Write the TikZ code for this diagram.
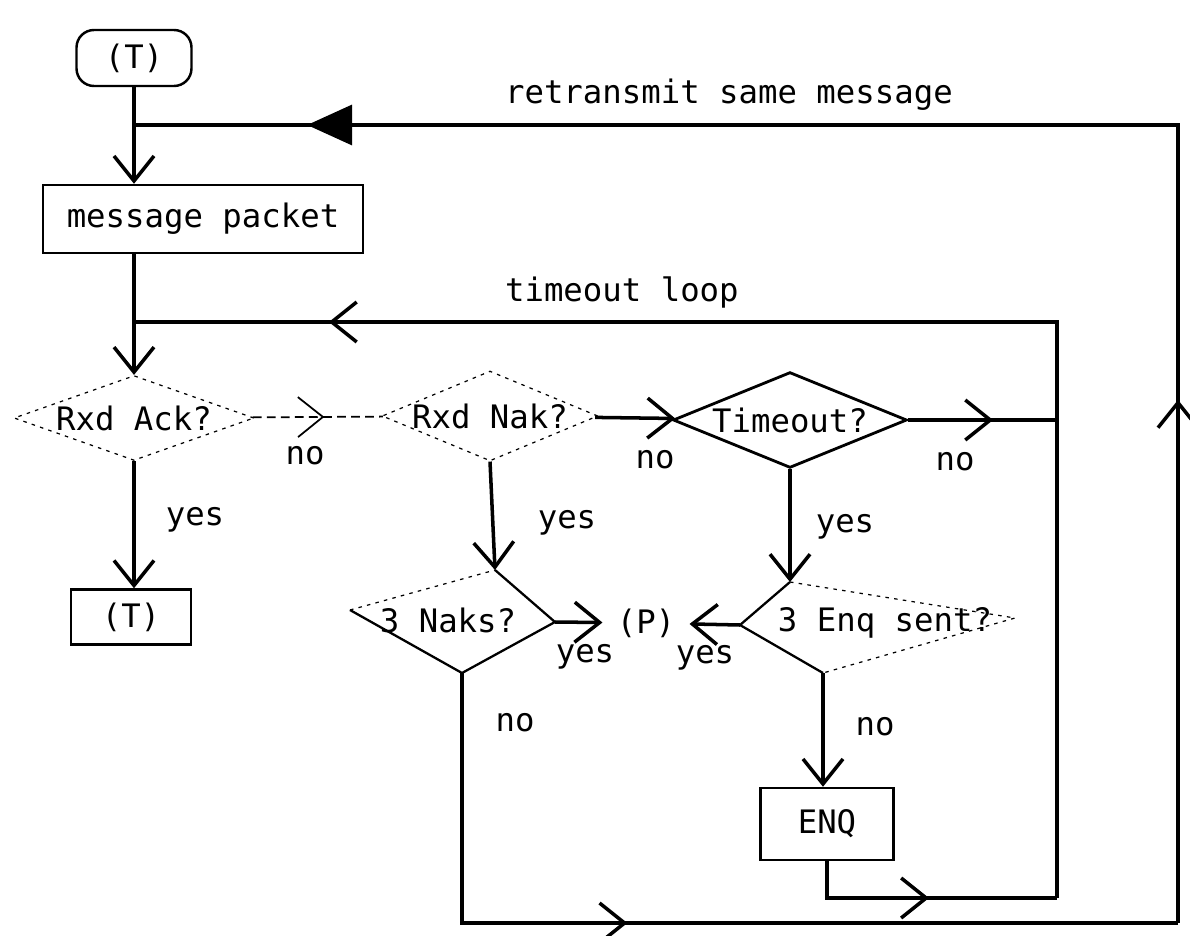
\documentclass[tikz,border=0pt]{standalone}
\usepackage{fontspec}
\newfontfamily\dotfont{DejaVu Sans Mono}
\usetikzlibrary{shapes.geometric, arrows.meta, decorations.markings}

\begin{document}
\begin{tikzpicture}[
    x=0.02cm, y=-0.02cm,
    font=\dotfont\fontsize{18.4}{20}\selectfont,
    wire/.style={line width=2pt},
    faint/.style={line width=0.7pt, dash pattern=on 2pt off 3pt},
    flow/.style={wire, -{Straight Barb[length=0.5cm, width=0.8cm]}},
    midarr/.style={postaction={decorate, decoration={markings, mark=at position #1 with {\arrow{Straight Barb[length=0.5cm, width=0.8cm]}}}}},
    midfill/.style={postaction={decorate, decoration={markings, mark=at position #1 with {\arrow{Triangle[length=0.9cm, width=0.8cm]}}}}},
    box/.style={draw, line width=1.4pt, inner sep=0pt},
    decision/.style={diamond, inner sep=0pt},
    lbl/.style={inner sep=1pt}
]
    \useasboundingbox (0,0) rectangle (1190,936);

    \node[box, rounded corners=0.35cm, minimum width=2.3cm, minimum height=1.12cm] (start) at (134,58) {(T)};
    \node[box, minimum width=6.4cm, minimum height=1.36cm] (msg) at (203,219) {message packet};
    \node[decision, draw, faint, aspect=2.6, minimum width=4.8cm] (ack) at (134,418) {Rxd Ack?};
    \node[decision, draw, faint, aspect=2.4] (nak) at (490,416) {Rxd Nak?};
    \node[decision, draw, wire, line width=1.6pt, aspect=2.2, minimum width=4.68cm] (timeout) at (790,420) {Timeout?};
    \node[box, minimum width=2.4cm, minimum height=1.1cm] (ackbox) at (131,617) {(T)};
    \node (naks) at (448,620) {3 Naks?};
    \node[inner xsep=0.28cm] (p) at (646,623) {(P)};
    \node (enq) at (885,623) {3 Enq sent?};
    \node[box, minimum width=2.66cm, minimum height=1.44cm] (enqbox) at (827,824) {ENQ};

    \node[lbl, anchor=west] (rtxlbl) at (503,95) {retransmit same message};
    \node[lbl, anchor=west] (tllbl) at (503,292) {timeout loop};
    \node[lbl] (ackno) at (305,456) {no};
    \node[lbl] (ackyes) at (195,520) {yes};
    \node[lbl] (nakno) at (655,460) {no};
    \node[lbl] (nakyes) at (567,523) {yes};
    \node[lbl] (timeno) at (955,462) {no};
    \node[lbl] (timeyes) at (845,527) {yes};
    \node[lbl] (naksyes) at (585,657) {yes};
    \node[lbl] (enqyes) at (705,658) {yes};
    \node[lbl] (naksno) at (515,723) {no};
    \node[lbl] (enqno) at (875,727) {no};

    \coordinate (naks-n) at (495,570);
    \coordinate (naks-w) at (350,610);
    \coordinate (naks-e) at (555,622);
    \coordinate (naks-s) at (462,673);
    \coordinate (enq-n) at (790,582);
    \coordinate (enq-w) at (740,625);
    \coordinate (enq-e) at (1015,618);
    \coordinate (enq-s) at (823,673);
    \coordinate (rtx) at (134,125);
    \coordinate (tl) at (134,322);
    \coordinate (tlbot) at (1057,898);
    \coordinate (rbot) at (1178,923);

    \draw[line width=1.3pt] (naks-n) -- (naks-e) -- (naks-s) -- (naks-w);
    \draw[faint] (naks-w) -- (naks-n);
    \draw[line width=1.3pt] (enq-n) -- (enq-w) -- (enq-s);
    \draw[faint] (enq-n) -- (enq-e) -- (enq-s);

    \draw[flow] (start) -- (start |- msg.north);
    \draw[flow] (ack |- msg.south) -- (ack.north);
    \draw[line width=1pt, dash pattern=on 5pt off 3pt, midarr=0.55] (ack) -- (nak);
    \draw[flow] (ack.south) -- (ack.south |- ackbox.north);
    \draw[flow] (nak) -- (timeout);
    \draw[flow] (nak.south) -- (naks-n);
    \draw[wire, midarr=0.57] (timeout.east) -- (timeout.east -| tlbot);
    \draw[flow] (timeout.south) -- (enq-n);
    \draw[flow] (naks-e) -- (p);
    \draw[flow] (enq-w) -- (p);
    \draw[flow] (enq-s) -- (enq-s |- enqbox.north);
    \draw[wire, midarr=0.52] (enqbox.south) |- (tlbot);
    \draw[wire, midarr=0.87] (tlbot) |- (tl);
    \draw[wire, midarr=0.43] (naks-s) |- (rbot);
    \draw[wire, midarr=0.284, midfill=0.906] (rbot) |- (rtx);
\end{tikzpicture}
\end{document}
